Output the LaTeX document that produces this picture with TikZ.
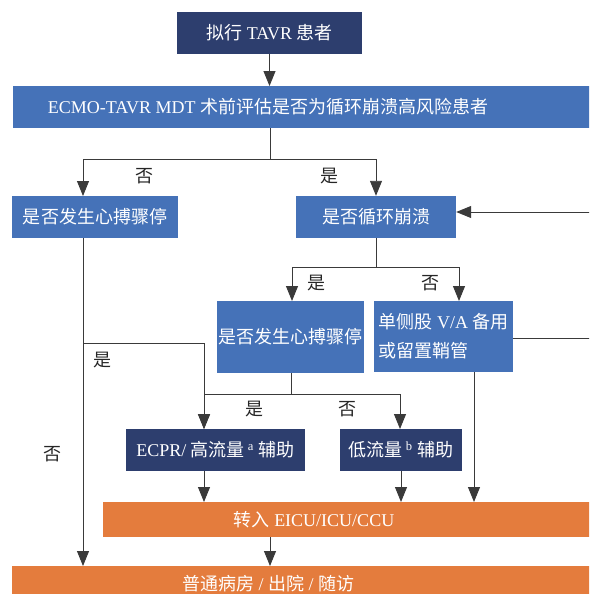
\documentclass[tikz,border=0pt]{standalone}
\usepackage{fontspec}
\setmainfont{Liberation Serif}
\newfontfamily\cjk{Noto Sans CJK SC}
\newcommand{\zh}[1]{{\cjk #1}}
\usetikzlibrary{arrows.meta}
\definecolor{navy}{HTML}{2D3E6E}
\definecolor{midblue}{HTML}{4572B8}
\definecolor{boxorange}{HTML}{E47C3D}
\definecolor{linegray}{HTML}{3A3A3A}
\tikzset{
  base/.style={inner sep=0pt, text=white, font=\fontsize{18}{21}\selectfont},
  navybox/.style={base, fill=navy, minimum height=42pt},
  bluebox/.style={base, fill=midblue, minimum height=42pt},
  orangebox/.style={base, fill=boxorange},
  lbl/.style={font=\fontsize{18}{21}\selectfont, text=black!85},
  conn/.style={draw=linegray, line width=0.9pt},
  arr/.style={conn, -{Triangle[length=15pt,width=12pt]}}
}
\begin{document}
\begin{tikzpicture}[x=1pt,y=-1pt]
\useasboundingbox (0,0) rectangle (589,594);
\clip (0,0) rectangle (589,594);
\node[navybox, minimum width=185pt] (start) at (269.5,33) {\zh{拟行} TAVR \zh{患者}};
\node[bluebox, minimum width=600pt, anchor=north west] (mdt) at (13,86) {};
\node[base] (mdttext) at (268,107) {ECMO-TAVR MDT \zh{术前评估是否为循环崩溃高风险患者}};
\node[bluebox, minimum width=166pt] (arrestA) at (95,217) {\zh{是否发生心搏骤停}};
\node[bluebox, minimum width=160pt] (collapse) at (376,217) {\zh{是否循环崩溃}};
\node[bluebox, minimum width=147pt, minimum height=72pt] (arrestB) at (290.5,337) {\zh{是否发生心搏骤停}};
\node[bluebox, minimum width=139pt, minimum height=71pt, align=left,
      font=\fontsize{18}{29}\selectfont] (standby) at (443.5,336.5)
      {\zh{单侧股} V/A \zh{备用}\\\zh{或留置鞘管}};
\node[navybox, minimum width=179pt] (ecpr) at (215.5,450) {ECPR/ \zh{高流量}\,\textsuperscript{a} \zh{辅助}};
\node[navybox, minimum width=122pt] (low) at (401,450) {\zh{低流量}\,\textsuperscript{b} \zh{辅助}};
\node[orangebox, minimum width=500pt, minimum height=35pt, anchor=north west] (icu) at (103,502) {};
\node[base] (icutext) at (314,520) {\zh{转入} EICU/ICU/CCU};
\node[orangebox, minimum width=600pt, minimum height=44pt, anchor=north west] (ward) at (12,566) {};
\node[base] (wardtext) at (268,584) {\zh{普通病房} / \zh{出院} / \zh{随访}};
% connectors
\coordinate (splitA) at (270,159);
\coordinate (splitB) at (376,267);
\coordinate (splitC) at (291,394);
\coordinate (branchA) at (83,343);
\coordinate (back) at (595,212);
\coordinate (side) at (595,338);
\draw[arr] (start.south) -- (start.south |- mdt.north);
\draw[conn] (mdt.south -| splitA) -- (splitA);
\draw[arr] (splitA) -| (83,196);
\draw[arr] (splitA) -| (collapse.north);
\draw[arr] (back) -- (back -| collapse.east);
\draw[conn] (collapse.south) -- (splitB);
\draw[arr] (splitB) -| (292,301);
\draw[arr] (splitB) -| (459,301);
\draw[conn] (standby.east |- side) -- (side);
\draw[arr] (83,238) -- (83,566);
\draw[arr] (branchA) -| (204,429);
\draw[conn] (arrestB.south -| splitC) -- (splitC);
\draw[arr] (splitC) -| (204,429);
\draw[arr] (splitC) -| (400,429);
\draw[arr] (204,471) -- (204,502);
\draw[arr] (low.south) -- (low.south |- icu.north);
\draw[arr] (474,372) -- (474,502);
\draw[arr] (270,537) -- (270,566);
% labels
\node[lbl] (noA) at (144,176) {\zh{否}};
\node[lbl] (yesA) at (329,176) {\zh{是}};
\node[lbl] (yesB) at (316,283) {\zh{是}};
\node[lbl] (noB) at (430,283) {\zh{否}};
\node[lbl] (yesC) at (102,360) {\zh{是}};
\node[lbl] (noC) at (52,454) {\zh{否}};
\node[lbl] (yesD) at (254,409) {\zh{是}};
\node[lbl] (noD) at (347,409) {\zh{否}};
\end{tikzpicture}
\end{document}
